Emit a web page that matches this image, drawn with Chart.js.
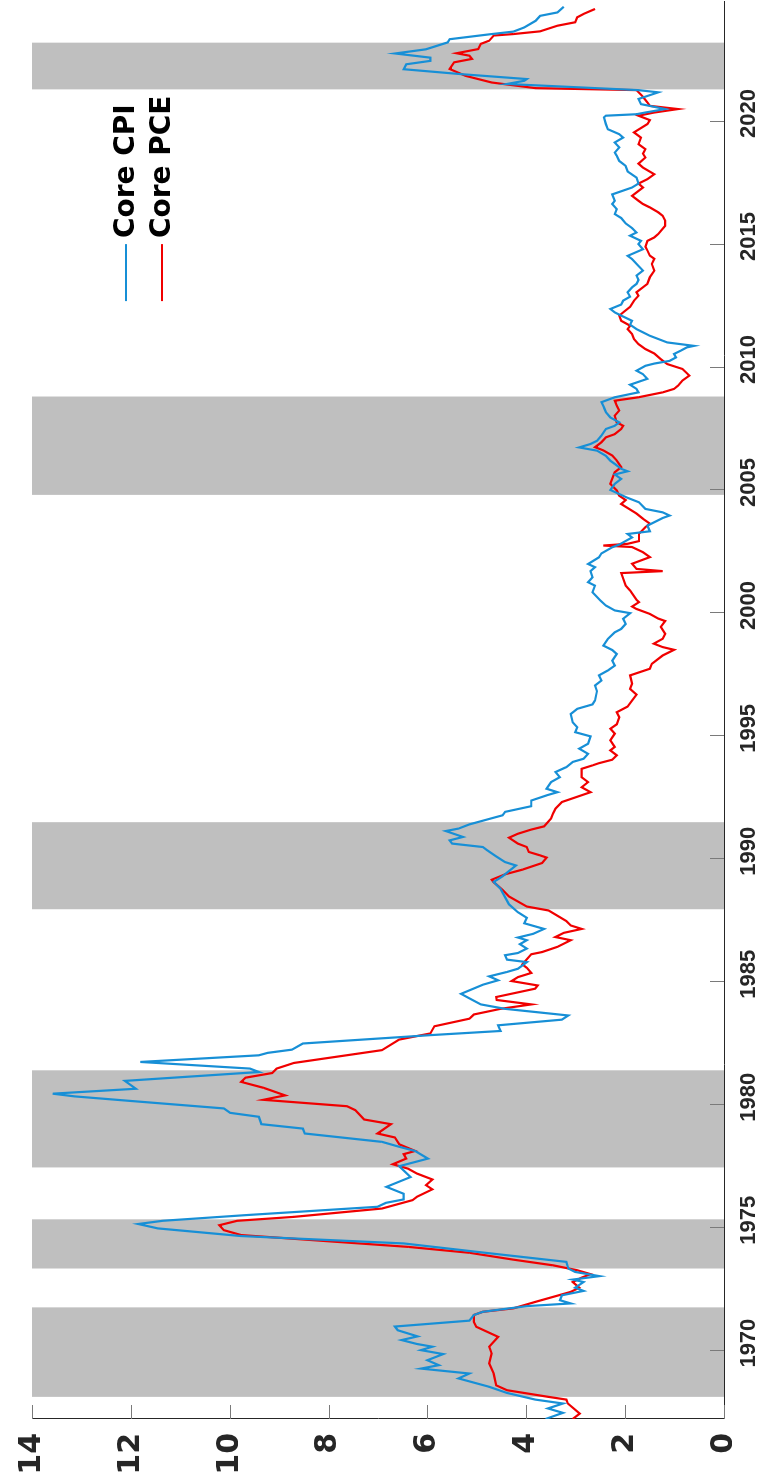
<!DOCTYPE html>
<html>
<head>
<meta charset="utf-8">
<script src="https://cdn.jsdelivr.net/npm/chart.js@4.4.1/dist/chart.umd.min.js"></script>
<style>
  html, body { margin: 0; padding: 0; background: #fff; width: 775px; height: 1479px; overflow: hidden; }
  /* chart is drawn landscape, then turned a quarter to the left */
  #wrap { position: absolute; left: 0; top: 0; width: 1479px; height: 775px;
          transform-origin: 0 0; transform: translateY(1479px) rotate(-90deg); }
</style>
</head>
<body>
<div id="wrap"><canvas id="wykres"></canvas></div>
<script>
const yearTicks = [1970, 1975, 1980, 1985, 1990, 1995, 2000, 2005, 2010, 2015, 2020];
const valueTicks = [0, 2, 4, 6, 8, 10, 12, 14];

// shaded periods
const shadeStarts = [1968.14, 1973.36, 1977.47, 1987.97, 2004.82, 2021.31];
const shadeEnds   = [1971.78, 1975.36, 1981.42, 1991.51, 2008.82, 2023.21];

const cpiYears = [
  1967.24, 1967.49, 1967.67, 1967.87, 1968.03, 1968.30, 1968.55, 1968.89, 1969.09, 1969.29,
  1969.43, 1969.63, 1969.88, 1970.04, 1970.18, 1970.29, 1970.45, 1970.60, 1970.85, 1971.00,
  1971.24, 1971.47, 1971.60, 1971.83, 1971.94, 1972.07, 1972.27, 1972.45, 1972.58, 1972.81,
  1972.91, 1973.05, 1973.22, 1973.36, 1973.63, 1973.97, 1974.38, 1974.68, 1974.99, 1975.17,
  1975.30, 1975.53, 1975.87, 1976.03, 1976.17, 1976.40, 1976.68, 1977.08, 1977.52, 1977.83,
  1978.14, 1978.31, 1978.51, 1978.85, 1979.05, 1979.23, 1979.53, 1979.69, 1979.87, 1980.17,
  1980.36, 1980.47, 1980.67, 1980.99, 1981.35, 1981.49, 1981.76, 1982.03, 1982.13, 1982.26,
  1982.51, 1982.85, 1983.02, 1983.25, 1983.48, 1983.65, 1983.92, 1984.10, 1984.29, 1984.53,
  1984.90, 1985.08, 1985.24, 1985.42, 1985.55, 1985.82, 1985.92, 1986.10, 1986.19, 1986.37,
  1986.55, 1986.71, 1986.82, 1986.97, 1987.17, 1987.40, 1987.62, 1987.85, 1988.17, 1988.80,
  1989.08, 1989.31, 1989.75, 1989.89, 1990.12, 1990.37, 1990.50, 1990.64, 1990.77, 1990.91,
  1991.15, 1991.25, 1991.42, 1991.62, 1991.79, 1991.93, 1992.16, 1992.39, 1992.60, 1992.73,
  1992.87, 1993.14, 1993.34, 1993.55, 1993.75, 1993.96, 1994.09, 1994.29, 1994.50, 1994.70,
  1995.00, 1995.17, 1995.37, 1995.57, 1995.91, 1996.12, 1996.30, 1996.46, 1996.84, 1997.07,
  1997.27, 1997.48, 1997.68, 1997.88, 1998.08, 1998.35, 1998.51, 1998.69, 1998.96, 1999.23,
  1999.37, 1999.57, 1999.78, 2000.01, 2000.12, 2000.32, 2000.52, 2000.86, 2001.13, 2001.27,
  2001.47, 2001.72, 2001.88, 2002.01, 2002.28, 2002.44, 2002.69, 2002.80, 2002.89, 2003.09,
  2003.23, 2003.34, 2003.57, 2003.88, 2003.98, 2004.11, 2004.25, 2004.52, 2004.70, 2005.02,
  2005.27, 2005.47, 2005.65, 2005.78, 2005.88, 2006.08, 2006.21, 2006.41, 2006.62, 2006.75,
  2006.89, 2007.02, 2007.23, 2007.50, 2007.63, 2007.77, 2007.97, 2008.18, 2008.38, 2008.59,
  2008.79, 2008.99, 2009.13, 2009.30, 2009.54, 2009.73, 2009.87, 2010.07, 2010.16, 2010.27,
  2010.41, 2010.55, 2010.68, 2010.82, 2010.88, 2011.02, 2011.29, 2011.43, 2011.56, 2011.74,
  2011.90, 2012.11, 2012.24, 2012.38, 2012.56, 2012.72, 2012.88, 2013.06, 2013.26, 2013.40,
  2013.56, 2013.74, 2013.94, 2014.13, 2014.41, 2014.54, 2014.81, 2015.02, 2015.15, 2015.36,
  2015.49, 2015.67, 2015.86, 2016.08, 2016.24, 2016.44, 2016.65, 2016.78, 2017.04, 2017.32,
  2017.48, 2017.72, 2017.97, 2018.20, 2018.40, 2018.61, 2018.74, 2018.95, 2019.15, 2019.35,
  2019.49, 2019.69, 2019.90, 2020.17, 2020.24, 2020.30, 2020.37, 2020.51, 2020.71, 2020.92,
  2021.19, 2021.28, 2021.53, 2021.66, 2021.73, 2021.93, 2022.13, 2022.33, 2022.47, 2022.60,
  2022.77, 2022.94, 2023.22, 2023.35, 2023.55, 2023.66, 2023.83, 2024.10, 2024.30, 2024.44,
  2024.67
];
const cpiValues = [
  3.61, 3.26, 3.56, 3.26, 3.82, 4.39, 4.75, 5.37, 5.15, 6.13,
  5.77, 6.00, 5.68, 6.13, 5.90, 6.21, 6.52, 6.20, 6.60, 6.66,
  5.15, 5.06, 4.88, 3.99, 3.10, 3.32, 3.28, 2.84, 3.01, 2.84,
  3.06, 2.52, 3.01, 3.15, 3.19, 4.70, 6.48, 9.77, 11.45, 11.85,
  11.36, 9.68, 7.01, 6.84, 6.48, 6.48, 6.83, 6.34, 6.57, 5.99,
  6.25, 6.57, 6.92, 8.48, 8.52, 9.36, 9.41, 9.99, 10.12, 11.98,
  13.14, 13.58, 11.90, 12.12, 9.41, 9.59, 11.81, 9.41, 9.23, 8.74,
  8.52, 5.94, 4.52, 4.57, 3.28, 3.15, 4.43, 4.92, 5.10, 5.32,
  4.88, 4.57, 4.75, 4.39, 4.17, 3.99, 4.39, 4.43, 4.17, 3.99,
  4.13, 3.99, 4.17, 3.86, 3.64, 4.04, 3.99, 4.17, 4.35, 4.52,
  4.66, 4.48, 4.21, 4.43, 4.61, 4.79, 4.88, 5.50, 5.55, 5.28,
  5.63, 5.37, 5.15, 4.79, 4.48, 4.43, 3.90, 3.90, 3.59, 3.37,
  3.59, 3.50, 3.32, 3.41, 3.19, 3.06, 2.84, 2.75, 2.93, 2.75,
  2.70, 3.01, 2.97, 3.06, 3.10, 2.97, 2.66, 2.61, 2.57, 2.61,
  2.48, 2.53, 2.35, 2.21, 2.26, 2.17, 2.26, 2.44, 2.35, 2.21,
  2.08, 1.99, 2.04, 1.90, 2.21, 2.39, 2.50, 2.66, 2.61, 2.75,
  2.66, 2.70, 2.61, 2.75, 2.53, 2.48, 2.26, 2.12, 2.04, 1.86,
  1.95, 1.50, 1.55, 1.24, 1.10, 1.24, 1.59, 1.72, 1.95, 2.30,
  2.21, 2.08, 2.21, 1.95, 2.08, 2.21, 2.30, 2.39, 2.57, 2.93,
  2.70, 2.57, 2.48, 2.39, 2.21, 2.12, 2.30, 2.39, 2.43, 2.48,
  2.21, 1.73, 1.77, 1.90, 1.55, 1.64, 1.77, 1.59, 1.41, 1.10,
  0.97, 1.01, 0.88, 0.75, 0.61, 1.15, 1.50, 1.64, 1.77, 1.90,
  1.86, 2.08, 2.21, 2.30, 2.08, 2.04, 1.90, 1.95, 1.86, 1.77,
  1.73, 1.77, 1.64, 1.73, 1.86, 1.95, 1.64, 1.73, 1.68, 1.90,
  1.77, 1.86, 1.99, 2.08, 2.21, 2.17, 2.26, 2.21, 2.26, 1.86,
  1.73, 1.77, 1.95, 1.99, 2.12, 2.17, 2.21, 2.12, 2.21, 2.04,
  2.12, 2.35, 2.39, 2.43, 2.39, 1.77, 1.59, 1.19, 1.68, 1.73,
  1.33, 1.73, 4.39, 4.04, 3.99, 5.32, 6.48, 6.43, 5.94, 5.94,
  6.65, 6.03, 5.59, 5.55, 4.74, 4.26, 4.04, 3.81, 3.72, 3.37,
  3.24
];

const pceYears = [
  1967.24, 1967.46, 1967.87, 1968.03, 1968.14, 1968.41, 1968.61, 1969.09, 1969.50, 1969.90,
  1970.18, 1970.58, 1970.99, 1971.19, 1971.47, 1971.60, 1971.74, 1972.00, 1972.41, 1972.58,
  1972.81, 1972.99, 1973.13, 1973.29, 1973.49, 1973.72, 1974.00, 1974.24, 1974.44, 1974.72,
  1974.92, 1975.12, 1975.30, 1975.46, 1975.80, 1976.14, 1976.28, 1976.58, 1976.75, 1976.98,
  1977.22, 1977.42, 1977.60, 1977.83, 1978.01, 1978.14, 1978.41, 1978.69, 1978.85, 1979.23,
  1979.42, 1979.80, 1979.96, 1980.22, 1980.40, 1980.71, 1980.95, 1981.12, 1981.31, 1981.49,
  1981.72, 1982.24, 1982.67, 1982.92, 1983.21, 1983.52, 1983.69, 1983.92, 1984.10, 1984.28,
  1984.40, 1984.74, 1984.87, 1985.05, 1985.21, 1985.38, 1985.59, 1985.73, 1986.14, 1986.23,
  1986.44, 1986.71, 1986.84, 1987.01, 1987.17, 1987.31, 1987.49, 1987.92, 1988.08, 1988.49,
  1988.76, 1989.07, 1989.17, 1989.39, 1989.58, 1989.85, 1990.07, 1990.16, 1990.30, 1990.50,
  1990.64, 1990.88, 1991.04, 1991.21, 1991.34, 1991.66, 1991.86, 1992.06, 1992.33, 1992.73,
  1992.93, 1993.14, 1993.34, 1993.68, 1993.82, 1993.91, 1994.05, 1994.23, 1994.43, 1994.57,
  1994.84, 1995.11, 1995.31, 1995.49, 1995.78, 1995.98, 1996.21, 1996.46, 1996.70, 1996.93,
  1997.14, 1997.48, 1997.75, 1997.95, 1998.29, 1998.52, 1998.63, 1998.77, 1998.97, 1999.17,
  1999.45, 1999.69, 1999.79, 1999.98, 2000.18, 2000.28, 2000.46, 2000.55, 2000.93, 2001.13,
  2001.41, 2001.64, 2001.72, 2001.81, 2002.02, 2002.29, 2002.49, 2002.70, 2002.76, 2002.83,
  2002.94, 2003.24, 2003.51, 2003.65, 2003.85, 2004.06, 2004.45, 2004.61, 2004.79, 2005.00,
  2005.27, 2005.74, 2005.95, 2006.22, 2006.42, 2006.63, 2006.76, 2006.96, 2007.16, 2007.29,
  2007.50, 2007.63, 2007.77, 2008.04, 2008.25, 2008.45, 2008.65, 2008.79, 2008.99, 2009.13,
  2009.26, 2009.47, 2009.67, 2009.94, 2010.14, 2010.34, 2010.57, 2010.75, 2010.95, 2011.16,
  2011.36, 2011.56, 2011.70, 2011.90, 2012.11, 2012.24, 2012.47, 2012.72, 2012.92, 2013.06,
  2013.26, 2013.40, 2013.67, 2013.94, 2014.21, 2014.42, 2014.55, 2014.76, 2014.91, 2015.15,
  2015.29, 2015.43, 2015.76, 2015.97, 2016.17, 2016.31, 2016.51, 2016.65, 2016.78, 2016.98,
  2017.32, 2017.48, 2017.66, 2017.86, 2018.13, 2018.29, 2018.54, 2018.70, 2018.88, 2019.08,
  2019.35, 2019.56, 2019.90, 2020.06, 2020.24, 2020.37, 2020.51, 2020.64, 2020.78, 2021.01,
  2021.28, 2021.36, 2021.59, 2021.86, 2022.14, 2022.41, 2022.55, 2022.68, 2022.78, 2022.95,
  2023.16, 2023.29, 2023.50, 2023.56, 2023.67, 2023.90, 2024.04, 2024.24, 2024.38, 2024.58
];
const pceValues = [
  3.06, 2.92, 3.16, 3.19, 3.55, 4.39, 4.61, 4.66, 4.75, 4.70,
  4.75, 4.57, 5.01, 5.06, 5.06, 4.88, 4.26, 3.82, 3.10, 2.93,
  3.06, 2.88, 2.70, 2.97, 3.46, 4.26, 5.15, 6.39, 7.81, 9.77,
  10.12, 10.21, 9.85, 8.70, 6.92, 6.30, 6.21, 5.90, 6.03, 5.90,
  6.21, 6.39, 6.70, 6.43, 6.48, 6.25, 6.57, 6.66, 7.01, 6.74,
  7.28, 7.46, 7.63, 9.32, 8.88, 9.32, 9.77, 9.68, 9.14, 9.05,
  8.70, 6.92, 6.57, 5.94, 5.86, 5.15, 5.06, 4.52, 3.90, 4.60,
  4.61, 3.82, 3.77, 4.30, 4.17, 3.90, 3.99, 4.08, 3.90, 3.68,
  3.37, 3.10, 3.41, 3.24, 2.88, 3.10, 3.19, 3.55, 3.99, 4.35,
  4.48, 4.66, 4.70, 4.43, 4.08, 3.68, 3.59, 3.72, 3.95, 3.99,
  4.17, 4.35, 4.17, 3.90, 3.64, 3.50, 3.46, 3.41, 3.28, 2.70,
  2.88, 2.75, 2.88, 2.88, 2.66, 2.53, 2.26, 2.17, 2.30, 2.21,
  2.30, 2.21, 2.30, 2.17, 2.12, 2.17, 1.95, 1.86, 1.77, 1.90,
  1.86, 1.90, 1.50, 1.46, 1.24, 1.01, 1.24, 1.42, 1.24, 1.19,
  1.28, 1.19, 1.33, 1.50, 1.77, 1.86, 1.72, 1.77, 1.90, 1.99,
  2.04, 2.08, 1.24, 1.77, 1.86, 1.50, 1.64, 1.86, 2.44, 1.95,
  1.72, 1.72, 1.59, 1.50, 1.64, 1.77, 2.08, 1.99, 2.12, 2.17,
  2.30, 2.21, 2.08, 2.17, 2.26, 2.44, 2.61, 2.48, 2.39, 2.21,
  2.08, 2.04, 2.17, 2.21, 2.12, 2.17, 2.21, 1.73, 1.24, 1.01,
  0.93, 0.84, 0.70, 0.84, 1.15, 1.28, 1.41, 1.59, 1.73, 1.82,
  1.86, 1.95, 1.90, 2.08, 2.12, 2.04, 1.90, 1.82, 1.73, 1.77,
  1.64, 1.55, 1.50, 1.41, 1.46, 1.41, 1.50, 1.55, 1.59, 1.55,
  1.41, 1.33, 1.19, 1.19, 1.24, 1.33, 1.50, 1.64, 1.73, 1.86,
  1.64, 1.73, 1.55, 1.41, 1.64, 1.73, 1.59, 1.64, 1.59, 1.73,
  1.68, 1.82, 1.55, 1.50, 1.73, 1.41, 0.93, 1.50, 1.55, 1.64,
  1.77, 3.81, 4.70, 5.23, 5.55, 5.46, 5.10, 5.15, 5.41, 4.97,
  4.92, 4.75, 4.66, 4.26, 3.72, 3.37, 3.01, 2.97, 2.84, 2.61
];

function punkty(lata, wartosci) {
  return lata.map((rok, i) => ({ x: rok, y: wartosci[i] }));
}

// gray bands under the lines
const cieniowanie = {
  id: 'cieniowanie',
  beforeDatasetsDraw(chart) {
    const { ctx, chartArea, scales } = chart;
    ctx.save();
    ctx.fillStyle = '#bfbfbf';
    shadeStarts.forEach((od, i) => {
      const x1 = scales.x.getPixelForValue(od);
      const x2 = scales.x.getPixelForValue(shadeEnds[i]);
      ctx.fillRect(x1, chartArea.top, x2 - x1, chartArea.bottom - chartArea.top);
    });
    ctx.restore();
  }
};

// tick marks pointing into the plot, plus the legend
const znaczniki = {
  id: 'znaczniki',
  afterDatasetsDraw(chart) {
    const { ctx, chartArea, scales } = chart;
    const dl = 14;
    ctx.save();
    ctx.strokeStyle = '#7a7a7a';
    ctx.lineWidth = 1;
    ctx.beginPath();
    scales.x.ticks.forEach(t => {
      const x = Math.round(scales.x.getPixelForValue(t.value)) + 0.5;
      ctx.moveTo(x, chartArea.bottom);
      ctx.lineTo(x, chartArea.bottom - dl);
    });
    scales.y.ticks.forEach(t => {
      const y = Math.round(scales.y.getPixelForValue(t.value)) + 0.5;
      ctx.moveTo(chartArea.left, y);
      ctx.lineTo(chartArea.left + dl, y);
    });
    ctx.stroke();

    // legenda
    ctx.font = 'bold 28px "DejaVu Sans", sans-serif';
    ctx.textBaseline = 'middle';
    ctx.textAlign = 'left';
    chart.data.datasets.forEach((ds, i) => {
      const y = 126 + 36 * i;
      const x0 = chartArea.right - 300;
      ctx.strokeStyle = ds.borderColor;
      ctx.lineWidth = 2;
      ctx.beginPath();
      ctx.moveTo(x0, y);
      ctx.lineTo(x0 + 57, y);
      ctx.stroke();
      ctx.fillStyle = '#000';
      ctx.fillText(ds.label, x0 + 63, y + 1);
    });
    ctx.restore();
  }
};

const ctx = document.getElementById('wykres').getContext('2d');
new Chart(ctx, {
  type: 'line',
  data: {
    datasets: [{
      label: 'Core CPI',
      data: punkty(cpiYears, cpiValues),
      borderColor: '#178fd6',
      borderWidth: 2.2,
      pointRadius: 0,
      fill: false,
      tension: 0
    }, {
      label: 'Core PCE',
      data: punkty(pceYears, pceValues),
      borderColor: '#f00000',
      borderWidth: 2.2,
      pointRadius: 0,
      fill: false,
      tension: 0
    }]
  },
  options: {
    responsive: true,
    maintainAspectRatio: false,
    animation: false,
    layout: { padding: { top: 21, right: 0, left: 0, bottom: 0 } },
    plugins: { legend: { display: false }, tooltip: { enabled: false } },
    scales: {
      x: {
        type: 'linear',
        min: 1967.24,
        max: 2024.9,
        afterBuildTicks: s => { s.ticks = yearTicks.map(v => ({ value: v })); },
        afterFit: s => { s.height = 51; },
        grid: { display: false, drawTicks: false },
        border: { display: true, color: '#262626', width: 1 },
        ticks: {
          padding: 12,
          labelOffset: 8,
          color: '#262626',
          autoSkip: false,
          maxRotation: 0,
          font: { family: '"Liberation Sans", Arial, sans-serif', size: 22, weight: 'bold' },
          callback: v => String(v)
        }
      },
      y: {
        min: 0,
        max: 14,
        afterBuildTicks: s => { s.ticks = valueTicks.map(v => ({ value: v })); },
        afterFit: s => { s.width = 60; },
        grid: { display: false, drawTicks: false },
        border: { display: true, color: '#262626', width: 1 },
        ticks: {
          padding: 14,
          color: '#262626',
          font: { family: '"DejaVu Sans", sans-serif', size: 30, weight: 'bold' },
          callback: v => String(v)
        }
      }
    }
  },
  plugins: [cieniowanie, znaczniki]
});
</script>
</body>
</html>
